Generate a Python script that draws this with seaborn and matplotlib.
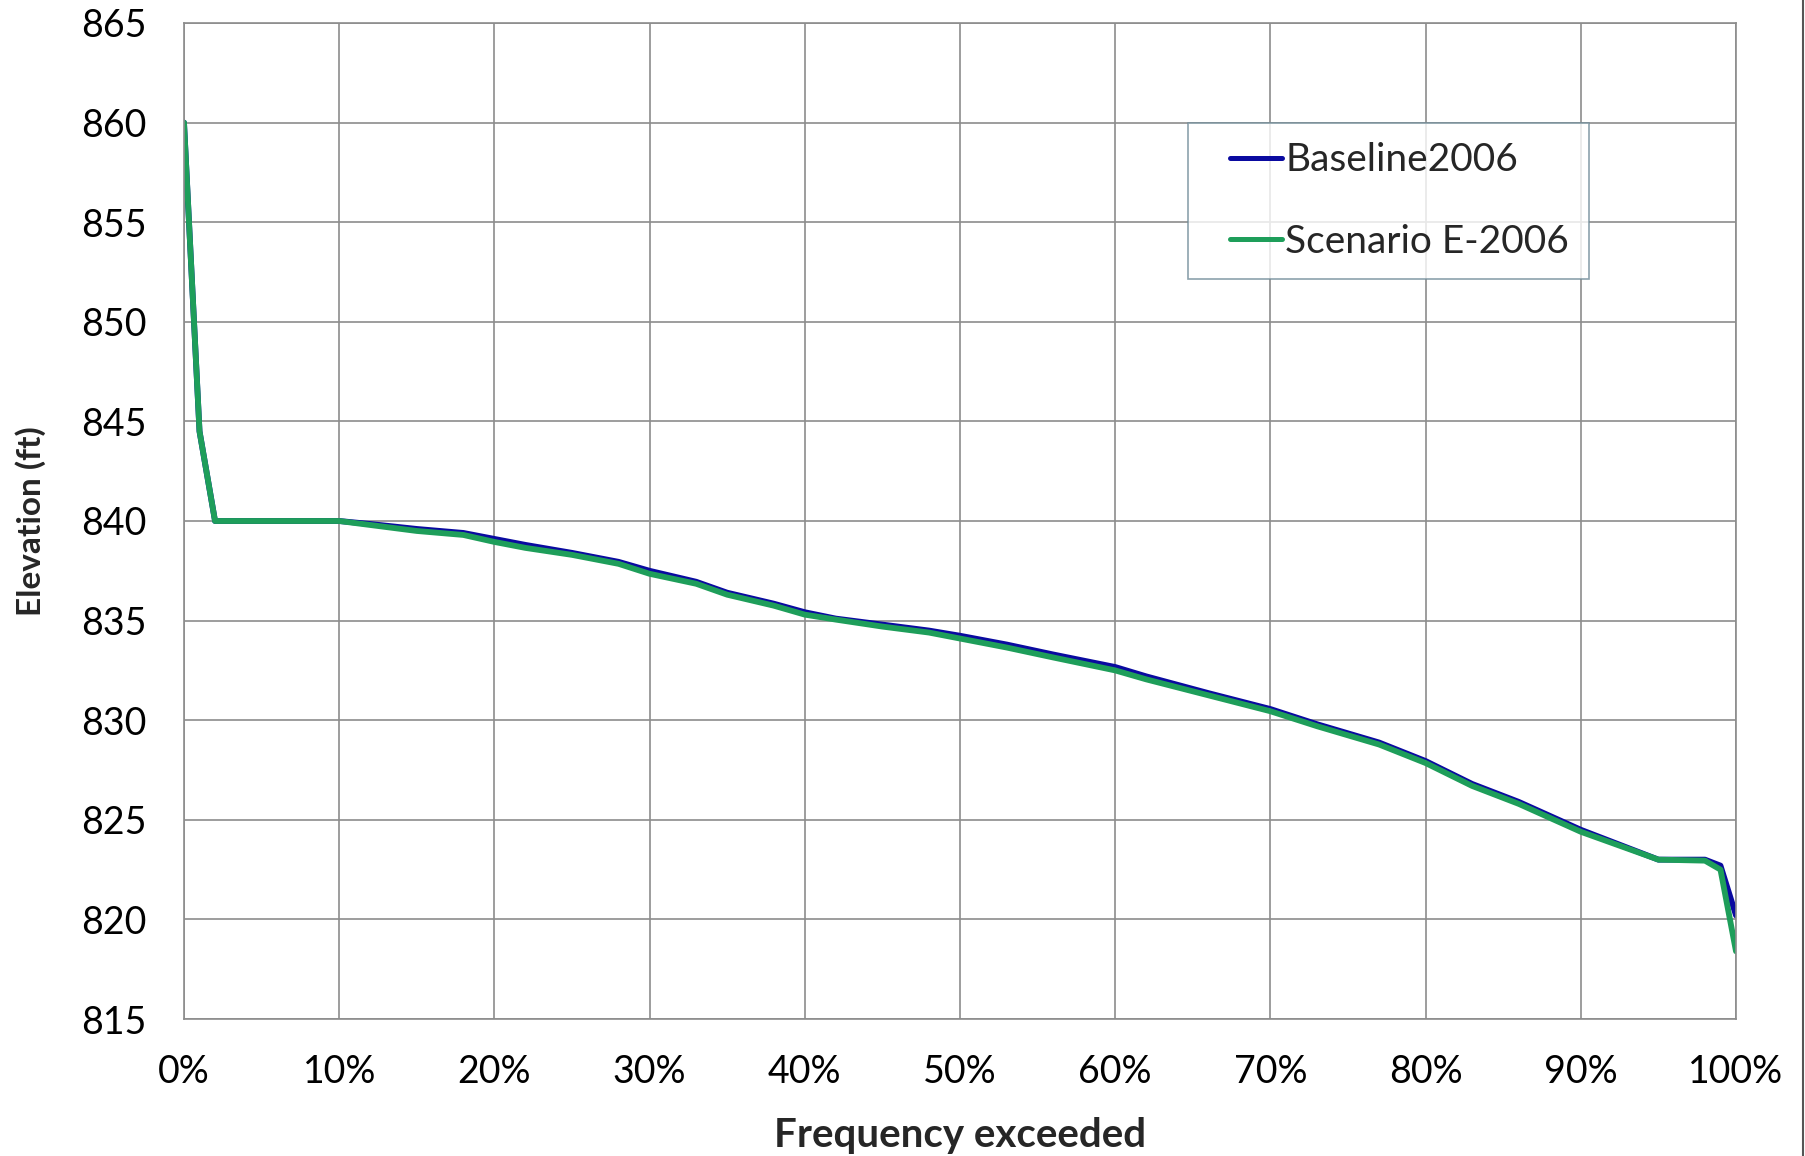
import numpy as np
import pandas as pd
import matplotlib
matplotlib.use("Agg")
import matplotlib.pyplot as plt
import seaborn as sns
from matplotlib.ticker import PercentFormatter
from matplotlib.legend_handler import HandlerLine2D
from matplotlib.lines import Line2D

# ---- data ----
pct = [0, 1, 2, 10, 12, 15, 18, 20, 22, 25, 28, 30, 33, 35, 38, 40, 42, 45,
       48, 50, 53, 56, 60, 62, 66, 70, 73, 77, 80, 83, 86, 88, 90, 95, 98, 99, 100]
baseline = [860, 844.5, 840, 840, 839.85, 839.6, 839.4, 839.1, 838.8, 838.4,
            837.95, 837.5, 836.95, 836.4, 835.85, 835.42, 835.1, 834.8, 834.5,
            834.24, 833.8, 833.3, 832.67, 832.2, 831.36, 830.56, 829.8, 828.88,
            827.95, 826.8, 825.9, 825.2, 824.5, 823.0, 823.0, 822.7, 820.2]
scenario = [860, 844.5, 840, 840, 839.8, 839.5, 839.3, 838.95, 838.65, 838.3,
            837.85, 837.35, 836.85, 836.3, 835.75, 835.3, 835.05, 834.7, 834.4,
            834.1, 833.65, 833.15, 832.5, 832.05, 831.25, 830.45, 829.7, 828.78,
            827.85, 826.7, 825.8, 825.1, 824.4, 823.0, 822.95, 822.5, 818.4]
series_names = ["Baseline2006", "Scenario E-2006"]
y_ticks = [815, 820, 825, 830, 835, 840, 845, 850, 855, 860, 865]
x_ticks = [0, 10, 20, 30, 40, 50, 60, 70, 80, 90, 100]

df = pd.concat([
    pd.DataFrame({"pct": pct, "elev": baseline, "series": series_names[0]}),
    pd.DataFrame({"pct": pct, "elev": scenario, "series": series_names[1]}),
])

sns.set_theme(style="white")
plt.rcParams["font.family"] = ["Lato", "DejaVu Sans"]

fig = plt.figure(figsize=(18.06, 11.56), dpi=100)
ax = fig.add_axes([184/1806, 1 - 1019/1156, 1552/1806, 996/1156])

palette = {series_names[0]: "#0a0aa0", series_names[1]: "#1e9e5a"}
sns.lineplot(data=df, x="pct", y="elev", hue="series", palette=palette,
             linewidth=4.2, ax=ax, sort=False, estimator=None)

grid_c = "#8c8c8c"
ax.set_xlim(0, 100)
ax.set_ylim(815, 865)
ax.set_xticks(x_ticks)
ax.set_yticks(y_ticks)
ax.xaxis.set_major_formatter(PercentFormatter(100, decimals=0))
ax.grid(True, color=grid_c, linewidth=1.2)
for s in ax.spines.values():
    s.set_color(grid_c)
    s.set_linewidth(1.2)
ax.tick_params(axis="both", which="major", direction="out", length=9,
               width=1.2, color=grid_c, labelsize=27, labelcolor="black")
ax.tick_params(axis="x", pad=16)
ax.tick_params(axis="y", pad=18)

ax.set_xlabel("Frequency exceeded", fontsize=29, fontweight="bold")
ax.set_ylabel("Elevation (ft)", fontsize=24, fontweight="bold")
ax.xaxis.set_label_coords(0.5, -0.098)
ax.yaxis.set_label_coords(-0.099, 0.5)
ax.yaxis.label.set_verticalalignment("center")

handles, labels = ax.get_legend_handles_labels()
leg = ax.legend(handles, labels, loc="upper left",
                bbox_to_anchor=(1188/1806, 1 - 123/1156),
                bbox_transform=fig.transFigure,
                fontsize=28, frameon=True, fancybox=False,
                handlelength=1.92, handletextpad=0.08,
                labelspacing=1.16, borderpad=0.5, borderaxespad=0,
                handler_map={Line2D: HandlerLine2D(xpad=0.57)})
leg.get_frame().set_edgecolor("#6f8b98")
leg.get_frame().set_linewidth(1.2)
for h in leg.get_lines():
    h.set_linewidth(3.6)

# thin chart-area border on the right edge
fig.add_artist(plt.Line2D([0.9985, 0.9985], [0, 1], transform=fig.transFigure,
                          color="#555555", linewidth=1.5))

fig.savefig("out.png", dpi=100)
